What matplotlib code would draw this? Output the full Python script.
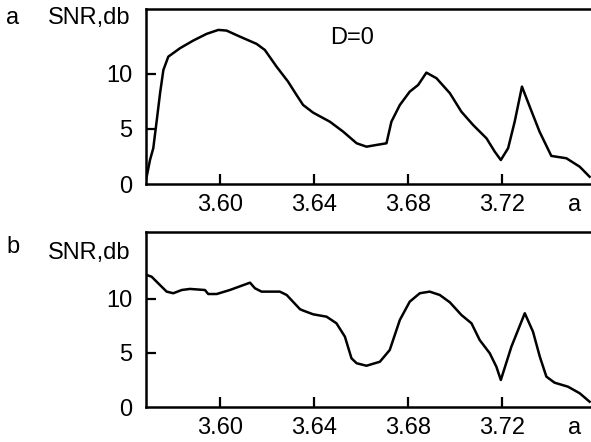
import matplotlib.pyplot as plt

plt.rcParams['font.family'] = ['Liberation Sans', 'DejaVu Sans']

# control parameter a and SNR (db), panel a: D=0
a_top = [3.5685, 3.5702, 3.5716, 3.5731, 3.5745, 3.5759, 3.5780, 3.5830, 3.5886,
         3.5943, 3.5993, 3.6028, 3.6085, 3.6156, 3.6191, 3.6241, 3.6290, 3.6326,
         3.6354, 3.6397, 3.6468, 3.6525, 3.6582, 3.6624, 3.6667, 3.6709, 3.6730,
         3.6766, 3.6808, 3.6844, 3.6879, 3.6922, 3.6979, 3.7028, 3.7078, 3.7135,
         3.7170, 3.7196, 3.7227, 3.7255, 3.7286, 3.7319, 3.7361, 3.7411, 3.7475,
         3.7532, 3.7574]
snr_top = [0.36, 2.18, 3.25, 5.82, 8.27, 10.36, 11.57, 12.34, 13.03,
           13.64, 14.0, 13.94, 13.39, 12.73, 12.18, 10.66, 9.3, 8.09,
           7.18, 6.48, 5.66, 4.75, 3.70, 3.39, 3.55, 3.70, 5.66,
           7.18, 8.39, 9.0, 10.12, 9.61, 8.25, 6.57, 5.36, 4.15,
           2.94, 2.18, 3.25, 5.66, 8.85, 7.03, 4.75, 2.55, 2.34,
           1.57, 0.66]

# panel b
a_bot = [3.5688, 3.5709, 3.5737, 3.5773, 3.5801, 3.5837, 3.5872, 3.5936, 3.5950,
         3.5986, 3.6042, 3.6128, 3.6149, 3.6177, 3.6255, 3.6284, 3.6341, 3.6355,
         3.6397, 3.6454, 3.6496, 3.6532, 3.6560, 3.6582, 3.6624, 3.6681, 3.6723,
         3.6766, 3.6808, 3.6851, 3.6893, 3.6936, 3.6979, 3.7028, 3.7071, 3.7106,
         3.7149, 3.7177, 3.7196, 3.7241, 3.7298, 3.7333, 3.7362, 3.7390, 3.7425,
         3.7482, 3.7532, 3.7574]
snr_bot = [12.22, 12.06, 11.45, 10.68, 10.53, 10.83, 10.93, 10.83, 10.46,
           10.46, 10.83, 11.51, 10.99, 10.68, 10.68, 10.37, 9.05, 8.92,
           8.58, 8.36, 7.75, 6.51, 4.51, 4.05, 3.82, 4.19, 5.28,
           8.06, 9.75, 10.53, 10.68, 10.37, 9.69, 8.52, 7.75, 6.20,
           4.97, 3.73, 2.50, 5.58, 8.68, 6.97, 4.66, 2.81, 2.25,
           1.88, 1.27, 0.49]

xticks = [3.60, 3.64, 3.68, 3.72]
xlabels = ['3.60', '3.64', '3.68', '3.72']
yticks = [0, 5, 10]
fs = 17

W, H = 591, 442
fig = plt.figure(figsize=(W / 100, H / 100), dpi=100)
ax1 = fig.add_axes([146 / W, 1 - 184 / H, 1 - 146 / W, (184 - 9) / H])
ax2 = fig.add_axes([146 / W, 1 - 407 / H, 1 - 146 / W, (407 - 232) / H])

for ax, a, s, ytop in [(ax1, a_top, snr_top, 15.9), (ax2, a_bot, snr_bot, 16.2)]:
    ax.plot(a, s, color='black', lw=1.8, solid_joinstyle='round')
    ax.set_xlim(3.5685, 3.758)
    ax.set_ylim(0, ytop)
    ax.set_xticks(xticks)
    ax.set_xticklabels(xlabels)
    ax.set_yticks(yticks)
    ax.tick_params(direction='in', length=7, width=1.6, labelsize=fs)
    ax.tick_params(axis='x', pad=7)
    ax.tick_params(axis='y', pad=10)
    ax.spines['right'].set_visible(False)
    for sp in ['left', 'top', 'bottom']:
        ax.spines[sp].set_linewidth(1.8)
    # no tick mark at zero, only its label
    ax.yaxis.get_major_ticks()[0].tick1line.set_visible(False)

ax1.text(0.463, 0.834, 'D=0', fontsize=fs, ha='center', va='center',
         transform=ax1.transAxes)

# x-axis name "a" sits in line with the tick labels, at the right end
fig.text(575 / W, 1 - 205 / H, 'a', fontsize=fs, ha='center', va='center')
fig.text(575 / W, 1 - 428 / H, 'a', fontsize=fs, ha='center', va='center')

fig.text(13 / W, 1 - 18 / H, 'a', fontsize=fs, ha='center', va='center')
fig.text(48 / W, 1 - 18 / H, 'SNR,db', fontsize=fs, ha='left', va='center')
fig.text(13 / W, 1 - 247 / H, 'b', fontsize=fs, ha='center', va='center')
fig.text(48 / W, 1 - 253 / H, 'SNR,db', fontsize=fs, ha='left', va='center')

fig.savefig('out.png', dpi=100)
